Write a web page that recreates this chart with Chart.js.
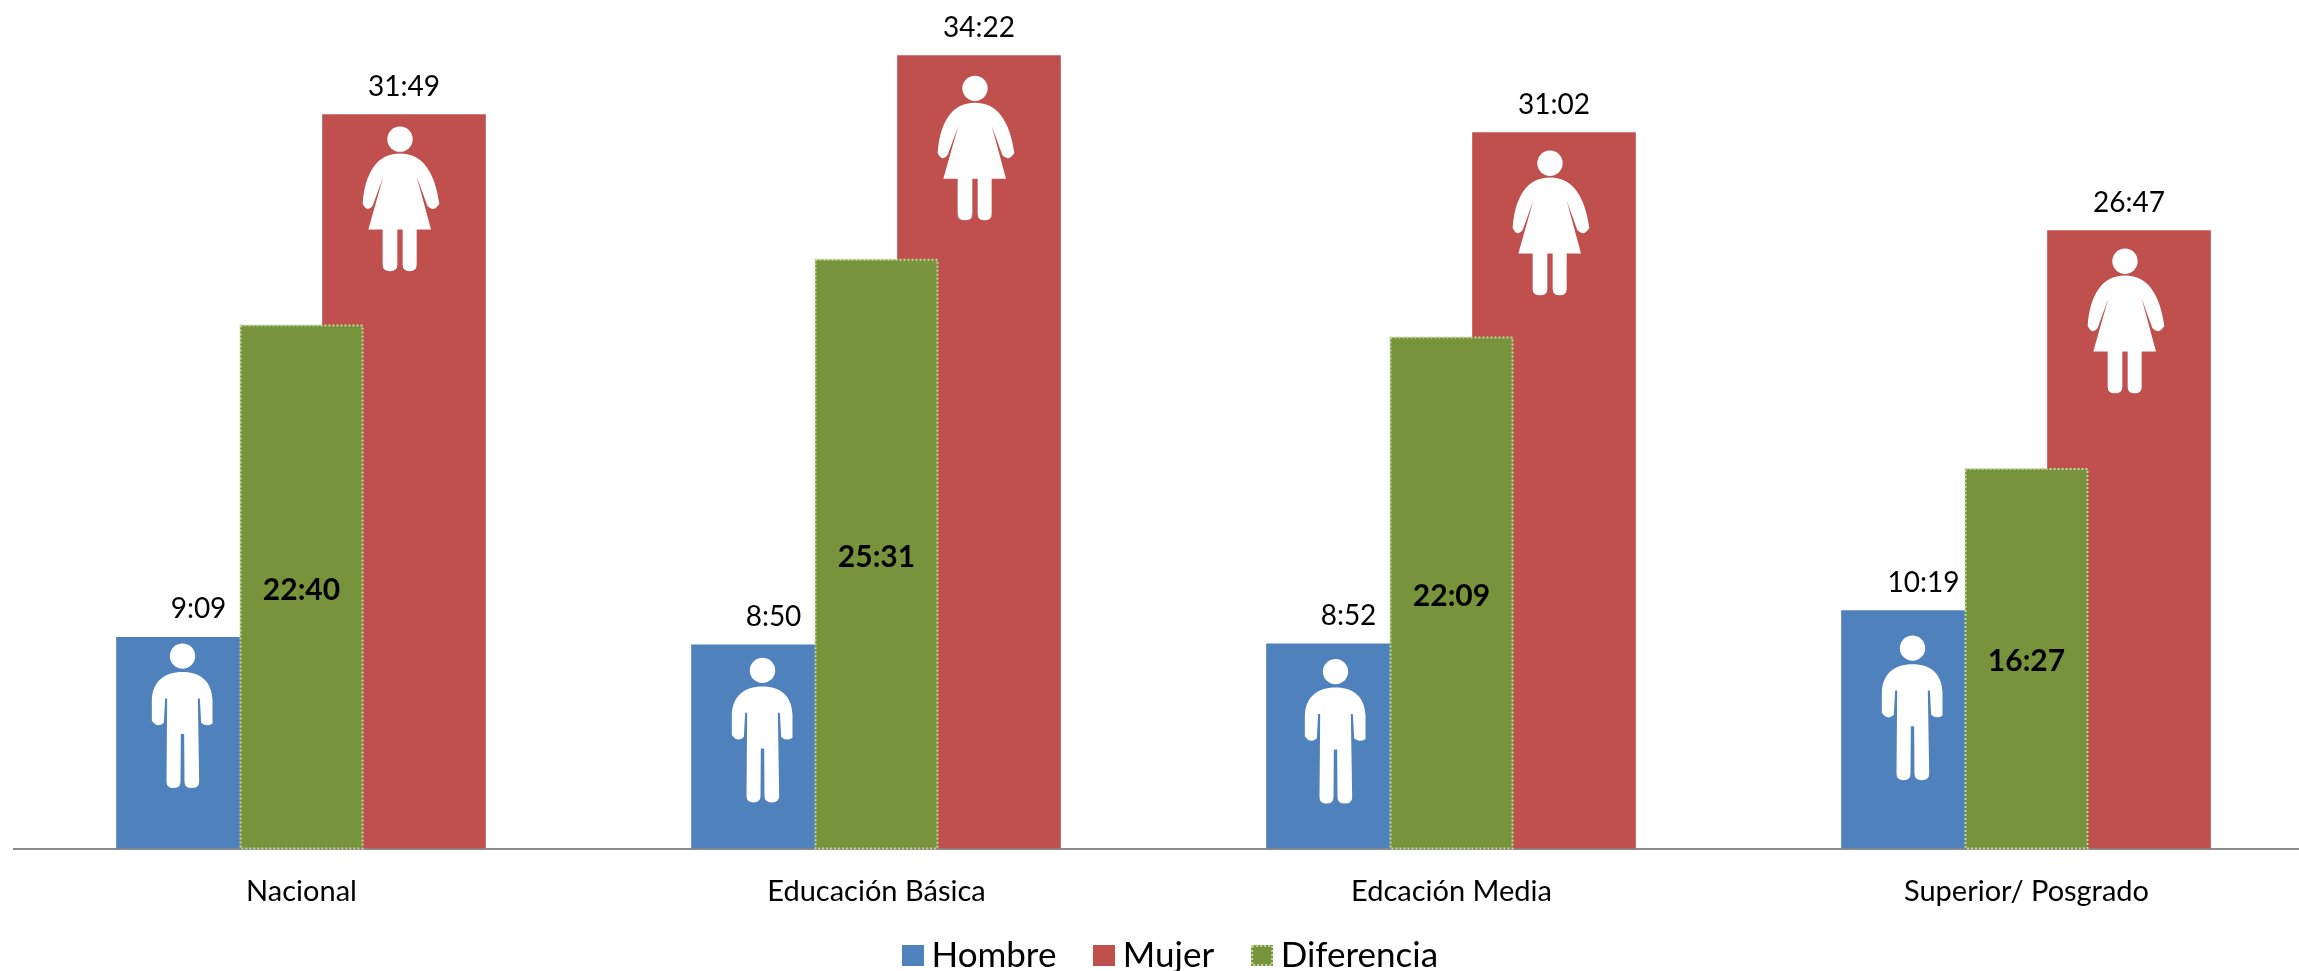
<!DOCTYPE html>
<html>
<head>
<meta charset="utf-8">
<title>Hombre / Mujer</title>
<script src="https://cdn.jsdelivr.net/npm/chart.js@4"></script>
<style>
  html, body { margin: 0; padding: 0; background: #fff; overflow: hidden; width: 2299px; height: 971px; }
  canvas { display: block; }
</style>
</head>
<body>
<canvas id="chart" width="2328" height="1001"></canvas>
<script>
const categories = ['Nacional', 'Educación Básica', 'Edcación Media', 'Superior/ Posgrado'];
const hombre = ['9:09', '8:50', '8:52', '10:19'];
const mujer = ['31:49', '34:22', '31:02', '26:47'];
const diferencia = ['22:40', '25:31', '22:09', '16:27'];

function toHours(label) {
  const parts = label.split(':');
  return Number(parts[0]) + Number(parts[1]) / 60;
}

// icon offsets from the top centre of each bar
const manOffset = [[4, 6], [9, 13], [7, 15], [9, 25]];
const womanOffset = [[-4, 12], [-4, 20], [-4, 18], [-4, 18]];

function limb(ctx, side) {
  // rounded leg, drawn in units of a third of a pixel
  ctx.lineTo(side[0], 415);
  ctx.quadraticCurveTo(side[0], 434, side[0] + (side[1] - side[0]) / 2, 434);
  ctx.quadraticCurveTo(side[1], 434, side[1], 415);
}

function drawMan(ctx, x, y) {
  ctx.save();
  ctx.translate(x, y);
  ctx.scale(1 / 3, 1 / 3);
  ctx.fillStyle = '#fff';
  ctx.beginPath();
  ctx.ellipse(0, 38, 38, 38, 0, 0, Math.PI * 2);
  ctx.fill();
  ctx.beginPath();
  ctx.moveTo(0, 86);
  ctx.bezierCurveTo(-55, 86, -90, 115, -92, 170);
  ctx.lineTo(-92, 232);
  ctx.quadraticCurveTo(-75, 256, -56, 238);
  ctx.lineTo(-52, 165);
  ctx.lineTo(-46, 165);
  limb(ctx, [-48, -6]);
  ctx.lineTo(-5, 272);
  ctx.lineTo(5, 272);
  limb(ctx, [6, 50]);
  ctx.lineTo(46, 165);
  ctx.lineTo(52, 165);
  ctx.lineTo(56, 238);
  ctx.quadraticCurveTo(72, 252, 90, 240);
  ctx.lineTo(90, 170);
  ctx.bezierCurveTo(88, 115, 55, 86, 0, 86);
  ctx.fill();
  ctx.restore();
}

function drawWoman(ctx, x, y) {
  ctx.save();
  ctx.translate(x, y);
  ctx.scale(1 / 3, 1 / 3);
  ctx.fillStyle = '#fff';
  ctx.beginPath();
  ctx.ellipse(0, 38, 38, 38, 0, 0, Math.PI * 2);
  ctx.fill();
  ctx.beginPath();
  ctx.moveTo(0, 81);
  ctx.bezierCurveTo(-70, 81, -105, 140, -112, 232);
  ctx.quadraticCurveTo(-98, 260, -82, 238);
  ctx.lineTo(-50, 150);
  ctx.lineTo(-95, 309);
  ctx.lineTo(-52, 309);
  limb(ctx, [-52, -8]);
  ctx.lineTo(-8, 309);
  ctx.lineTo(8, 309);
  limb(ctx, [8, 50]);
  ctx.lineTo(50, 309);
  ctx.lineTo(93, 309);
  ctx.lineTo(50, 150);
  ctx.lineTo(82, 238);
  ctx.quadraticCurveTo(100, 260, 118, 232);
  ctx.bezierCurveTo(105, 140, 70, 81, 0, 81);
  ctx.fill();
  ctx.restore();
}

// legend swatch as a point style image, sits closer to the text than a normal box
function swatch(color, dotted) {
  const c = document.createElement('canvas');
  c.width = 22;
  c.height = 21;
  const ctx = c.getContext('2d');
  ctx.fillStyle = color;
  ctx.fillRect(0, 0, 22, 21);
  if (dotted) {
    ctx.strokeStyle = '#c3d69b';
    ctx.lineWidth = 2;
    ctx.setLineDash([2, 2]);
    ctx.strokeRect(1, 1, 20, 19);
  }
  return c;
}

// the source chart has bars of different widths placed off centre
const barShift = {
  id: 'barShift',
  afterDatasetsUpdate(chart) {
    chart.data.datasets.forEach((ds, i) => {
      chart.getDatasetMeta(i).data.forEach(bar => { bar.x += ds.xShift; });
    });
  }
};

// legend is not centred under the plot in the source
const legendShift = {
  id: 'legendShift',
  afterLayout(chart) {
    chart.legend.left += 11;
    chart.legend.right += 11;
    chart.legend.top -= 18;
    chart.legend.bottom -= 18;
  }
};

const barExtras = {
  id: 'barExtras',
  afterDatasetsDraw(chart) {
    const ctx = chart.ctx;
    const men = chart.getDatasetMeta(0).data;
    const women = chart.getDatasetMeta(1).data;
    const diff = chart.getDatasetMeta(2).data;

    ctx.save();
    ctx.textAlign = 'center';
    ctx.textBaseline = 'middle';
    ctx.fillStyle = '#000';

    men.forEach((bar, i) => {
      drawMan(ctx, bar.x + manOffset[i][0], bar.y + manOffset[i][1]);
      ctx.font = '28px Lato';
      ctx.fillText(hombre[i], bar.x + 20, bar.y - 28);
    });

    women.forEach((bar, i) => {
      drawWoman(ctx, bar.x + womanOffset[i][0], bar.y + womanOffset[i][1]);
      ctx.font = '28px Lato';
      ctx.fillText(mujer[i], bar.x, bar.y - 28);
    });

    diff.forEach((bar, i) => {
      const half = bar.width / 2;
      ctx.strokeStyle = '#c3d69b';
      ctx.lineWidth = 2;
      ctx.setLineDash([2, 2]);
      ctx.strokeRect(bar.x - half, bar.y, bar.width, bar.base - bar.y);
      ctx.setLineDash([]);
      ctx.font = 'bold 30px Lato';
      ctx.fillText(diferencia[i], bar.x, (bar.y + bar.base) / 2 + 3);
    });
    ctx.restore();
  }
};

new Chart(document.getElementById('chart').getContext('2d'), {
  type: 'bar',
  data: {
    labels: categories,
    datasets: [
      { label: 'Hombre', data: hombre.map(toHours), backgroundColor: '#4F81BD', barThickness: 124, xShift: -123, order: 2 },
      { label: 'Mujer', data: mujer.map(toHours), backgroundColor: '#C0504D', barThickness: 163, xShift: 102.5, order: 3 },
      { label: 'Diferencia', data: diferencia.map(toHours), backgroundColor: '#77933C', barThickness: 122, xShift: 0, order: 1 }
    ]
  },
  plugins: [barShift, legendShift, barExtras],
  options: {
    responsive: false,
    animation: false,
    layout: { padding: { left: 14, right: 14, top: 0, bottom: 0 } },
    datasets: { bar: { grouped: false, borderWidth: 0 } },
    scales: {
      y: { display: false, min: 0, max: 36.78 },
      x: {
        afterFit(scale) { scale.height = 60.5; },
        grid: { display: false },
        border: { color: '#8c8c8c', width: 2 },
        ticks: { color: '#000', padding: 18, maxRotation: 0, font: { family: 'Lato', size: 29 } }
      }
    },
    plugins: {
      tooltip: { enabled: false },
      legend: {
        position: 'bottom',
        labels: {
          color: '#000',
          font: { family: 'Lato', size: 35 },
          usePointStyle: true,
          boxWidth: 2,
          boxHeight: 21,
          padding: 47,
          sort: (a, b) => a.datasetIndex - b.datasetIndex,
          generateLabels(chart) {
            return Chart.defaults.plugins.legend.labels.generateLabels(chart).map(item => {
              item.pointStyle = swatch(item.fillStyle, item.text === 'Diferencia');
              return item;
            });
          }
        }
      }
    }
  }
});
</script>
</body>
</html>
